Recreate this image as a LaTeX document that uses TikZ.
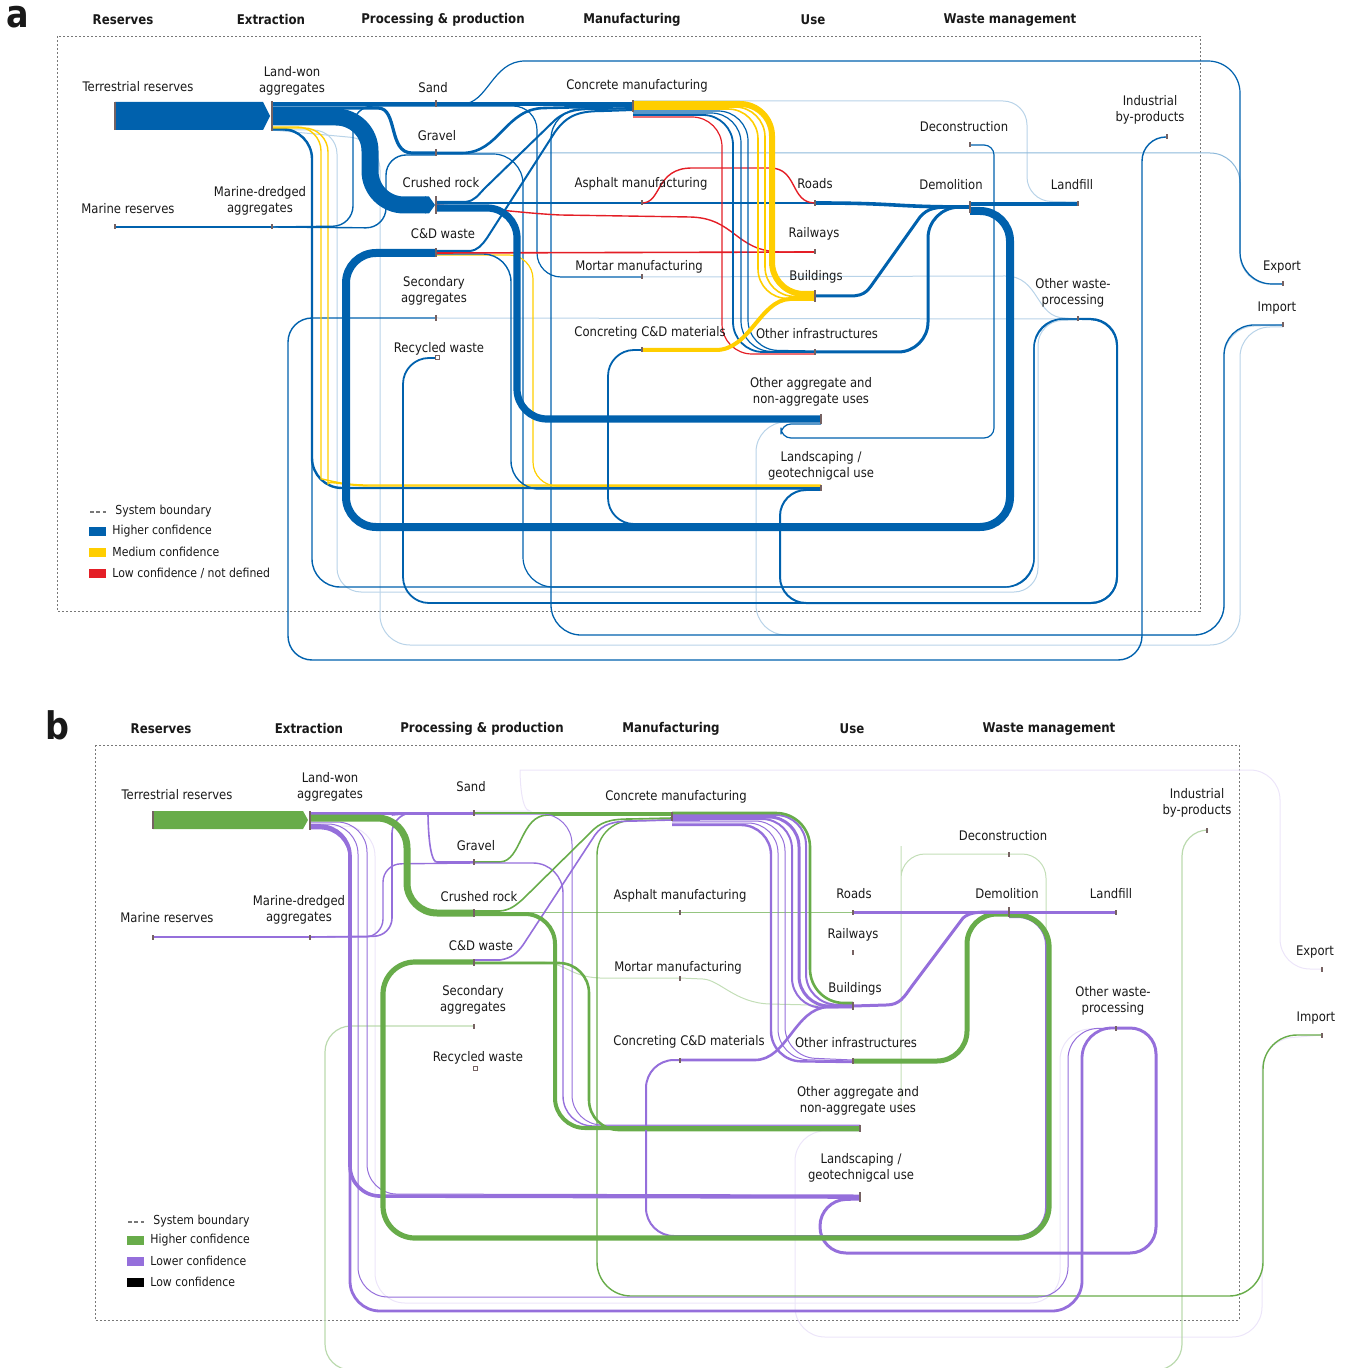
\documentclass[tikz,border=0pt]{standalone}
\usepackage{fontspec}
\setmainfont{DejaVu Sans}[FakeStretch=0.88]
\usetikzlibrary{calc}
\definecolor{flowblue}{RGB}{0,97,173}
\definecolor{flowyellow}{RGB}{255,206,0}
\definecolor{flowred}{RGB}{228,30,38}
\definecolor{flowgreen}{RGB}{104,172,74}
\definecolor{flowpurple}{RGB}{149,111,219}
\definecolor{tickgray}{RGB}{118,98,98}
\definecolor{boxgray}{RGB}{120,120,120}
\definecolor{txt}{RGB}{25,25,25}
% small grey marker bar at a flow node
\newcommand{\flowtick}[2]{\fill[tickgray] ($(#1)+(-1.2,-#2/2)$) rectangle ($(#1)+(1.2,#2/2)$);}
\begin{document}
\begin{tikzpicture}[x=0.5pt,y=-0.5pt,
  every node/.style={text=txt},
  lab/.style={font=\fontsize{6.6}{8}\selectfont, align=center, inner sep=0pt},
  head/.style={font=\bfseries\fontsize{6.7}{8}\selectfont, inner sep=0pt},
  legtext/.style={font=\fontsize{6.2}{7}\selectfont, anchor=west, inner sep=0pt},
  panel/.style={font=\bfseries\fontsize{19}{20}\selectfont, inner sep=0pt},
  sysbound/.style={draw=boxgray, line width=0.45pt, dash pattern=on 1.1pt off 0.9pt},
  fblue/.style={draw=flowblue, line join=round},
  fyel/.style={draw=flowyellow, line join=round},
  fred/.style={draw=flowred, line join=round},
  fgreen/.style={draw=flowgreen, line join=round},
  fpurp/.style={draw=flowpurple, line join=round},
  faintb/.style={draw=flowblue!28, line width=0.5pt},
  faintg/.style={draw=flowgreen!40, line width=0.5pt},
  faintp/.style={draw=flowpurple!18, line width=0.5pt}]
\useasboundingbox (0,0) rectangle (1351,1368);

%================ panel a ================
\node[panel] (pa) at (18,17) {a};
\node[head] (haRes) at (123,20) {Reserves};
\node[head] (haExt) at (271,20) {Extraction};
\node[head] (haPro) at (443,20) {Processing \& production};
\node[head] (haMan) at (632,20) {Manufacturing};
\node[head] (haUse) at (813,20) {Use};
\node[head] (haWas) at (1010,20) {Waste management};
\draw[sysbound] (57,36) rectangle (1200,611);

\coordinate (aTer) at (115,116);
\coordinate (aLand) at (272,116);
\coordinate (aMarR) at (115,227);
\coordinate (aMarD) at (272,227);
\coordinate (aSand) at (436,104);
\coordinate (aGrav) at (436,153);
\coordinate (aCrush) at (436,205);
\coordinate (aCDW) at (436,253);
\coordinate (aSec) at (436,318);
\coordinate (aRec) at (437,358);
\coordinate (aConc) at (633,106);
\coordinate (aAsph) at (642,203);
\coordinate (aMort) at (642,277);
\coordinate (aCCD) at (642,350);
\coordinate (aRoad) at (815,203);
\coordinate (aRail) at (815,252);
\coordinate (aBuild) at (815,296);
\coordinate (aInfra) at (815,352);
\coordinate (aOAU) at (821,419);
\coordinate (aLsc) at (821,488);
\coordinate (aDecon) at (970,145);
\coordinate (aDemo) at (970,207);
\coordinate (aFill) at (1078,204);
\coordinate (aInd) at (1167,137);
\coordinate (aOWP) at (1078,319);
\coordinate (aExp) at (1283,284);
\coordinate (aImp) at (1283,325);

% faint flows
\draw[faintb, rounded corners=12pt] ($(aConc)+(0,-5)$) -- (1027,101) -- (1027,201) -- ($(aFill)+(0,-2)$);
\draw[faintb] (aMort) -- (1005,276) .. controls (1040,276) and (1035,318) .. (1065,318) -- (aOWP);
\draw[faintb] (aSec) -- (aOWP);
\draw[faintb, rounded corners=12pt] ($(aLand)+(0,14)$) -- (337,130) -- (337,592) -- (1038,592) -- (1038,321) -- ($(aOWP)+(0,1)$);
\draw[faintb, rounded corners=15pt] ($(aOAU)+(0,3)$) -- (756,422) -- (756,635) -- (1224,635) -- (1224,327) -- (aImp);
\draw[faintb, rounded corners=15pt] ($(aImp)+(0,2)$) -- (1240,327) -- (1240,645) -- (380,645) -- (380,140) -- ($(aLand)+(0,14)$);
\draw[flowblue!45, line width=0.5pt, rounded corners=15pt] (aGrav) -- (1240,153) -- (1240,284) -- (aExp);

% thin flows
\draw[fblue, line width=0.6pt] (aSand) -- (462,104) .. controls (488,104) and (492,61) .. (525,61) [rounded corners=16pt] -- (1240,61) -- (1240,284) -- (aExp);
\draw[fblue, line width=0.65pt, rounded corners=15pt] (aImp) -- (1224,325) -- (1224,635) -- (551,635) -- (551,109) -- ($(aConc)+(0,3)$);
\draw[fblue, line width=0.7pt, rounded corners=12pt] (aInd) -- (1142,137) -- (1142,660) -- (288,660) -- (288,318) -- (aSec);
\draw[fblue, line width=0.7pt, rounded corners=14pt] ($(aLand)+(0,14)$) -- (312,130) -- (312,587) -- (1034,587) -- (1034,319) -- (aOWP);
\draw[fblue, line width=0.6pt, rounded corners=15pt] ($(aGrav)+(0,1)$) -- (523,154) -- (523,587) -- (1034,587) -- (1034,319) -- (aOWP);
\draw[fblue, line width=1.2pt, rounded corners=15pt] ($(aLand)+(0,13)$) -- (312,129) -- (312,488) -- (aLsc);
\draw[fyel, line width=0.7pt, rounded corners=12pt] ($(aLand)+(0,11)$) -- (321,127) -- (321,455) .. controls (321,478) and (340,485) .. (390,485) -- ($(aLsc)+(0,-3)$);
\draw[fyel, line width=0.7pt, rounded corners=12pt] ($(aLand)+(0,12)$) -- (328,128) -- (328,460) .. controls (328,480) and (345,486) .. (395,486) -- ($(aLsc)+(0,-2)$);
\draw[fblue, line width=1.2pt] (aMarR) -- (aMarD);
\draw[fblue, line width=0.7pt, rounded corners=10pt] (aMarD) -- (353,226) -- (353,106) -- ($(aSand)+(0,2)$);
\draw[fblue, line width=0.7pt, rounded corners=10pt] (aMarD) -- (386,228) -- (386,155) -- ($(aGrav)+(0,2)$);
\draw[fblue, line width=0.6pt, rounded corners=12pt] ($(aSand)+(0,2)$) -- (537,106) -- (537,277) -- (aMort);
\draw[fyel, line width=0.6pt, rounded corners=12pt] ($(aCDW)+(0,2)$) -- (533,255) -- (533,486) -- ($(aLsc)+(0,-2)$);
\draw[fblue, line width=0.7pt, rounded corners=14pt] ($(aCDW)+(0,1)$) -- (511,254) -- (511,489) -- ($(aLsc)+(0,1)$);
\draw[fblue, line width=0.8pt] ($(aCrush)+(0,-2)$) -- (aRoad);
\draw[fred, line width=0.7pt] (aCrush) .. controls (490,208) and (520,213) .. (560,215) -- (690,217) .. controls (735,218) and (735,251) .. (780,252) -- (aRail);
\draw[fred, line width=0.8pt] (aCDW) -- (aRail);
\draw[fred, line width=0.7pt] (aAsph) .. controls (662,203) and (655,168) .. (692,168) -- (770,168) .. controls (798,168) and (790,203) .. (aRoad);
\draw[fblue, line width=1.3pt] (aGrav) -- (462,153) .. controls (500,153) and (505,108) .. (545,108) -- (aConc);
\draw[fblue, line width=1pt] ($(aCrush)+(0,-3)$) -- (465,202) .. controls (475,201) and (478,195) .. (485,188) -- (555,120) .. controls (568,109) and (580,109) .. (600,109) -- ($(aConc)+(0,2)$);
\draw[fblue, line width=1pt] ($(aCDW)+(0,-2)$) -- (470,251) .. controls (478,250) and (482,245) .. (487,238) -- (555,132) .. controls (568,114) and (580,111) .. (605,111) -- ($(aConc)+(0,4)$);
\draw[fblue, line width=0.6pt, rounded corners=5pt] (aDecon) -- (994,145) -- (994,438) -- (781,438) -- (781,424) -- ($(aOAU)+(0,5)$);
\draw[fblue, line width=0.9pt, rounded corners=13pt] (aOWP) -- (1117,320) -- (1117,603) -- (403,603) -- (403,358) -- (aRec);
\draw[fblue, line width=1pt, rounded corners=13pt] (aOWP) -- (1117,319) -- (1117,603) -- (780,603) -- (780,490) -- ($(aLsc)+(0,2)$);
\draw[fblue, line width=0.9pt, rounded corners=13pt] ($(aDemo)+(0,6)$) -- (1007,213) -- (1007,524) -- (608,524) -- (608,350) -- (aCCD);

% concrete manufacturing outflows
\draw[fred, line width=0.6pt, rounded corners=15pt] ($(aConc)+(0,11)$) -- (722,117) -- (722,354) -- ($(aInfra)+(0,2)$);
\draw[fblue, line width=0.9pt, rounded corners=15pt] ($(aConc)+(0,9)$) -- (733,115) -- (733,352) -- (aInfra);
\draw[fblue, line width=0.6pt, rounded corners=15pt] ($(aConc)+(0,7)$) -- (741,113) -- (741,351) -- (aInfra);
\draw[fblue, line width=0.6pt, rounded corners=15pt] ($(aConc)+(0,5)$) -- (748,111) -- (748,350) -- ($(aInfra)+(0,-1)$);
\draw[fyel, line width=0.8pt, rounded corners=15pt] ($(aConc)+(0,3)$) -- (758,109) -- (758,299) -- ($(aBuild)+(0,2)$);
\draw[fyel, line width=0.8pt, rounded corners=15pt] ($(aConc)+(0,1)$) -- (765,107) -- (765,297) -- (aBuild);
\draw[fyel, line width=3pt, rounded corners=16pt] ($(aConc)+(0,-2)$) -- (772,104) -- (772,294) -- ($(aBuild)+(0,-2)$);
\draw[fyel, line width=2pt] (aCCD) -- (716,350) .. controls (750,350) and (760,300) .. (790,299) -- ($(aBuild)+(0,3)$);

% main flows
\fill[flowblue] (115,102) -- (263,102) -- (270,116) -- (263,130) -- (115,130) -- cycle;
\draw[fblue, line width=2pt] ($(aLand)+(0,-12)$) -- (aSand);
\draw[fblue, line width=2.2pt] (aSand) -- ($(aConc)+(0,-2)$);
\draw[fblue, line width=8.5pt, rounded corners=17pt] ($(aLand)+(0,1)$) -- (370,117) -- (370,205) -- ($(aCrush)+(-10,0)$);
\fill[flowblue] (425,196.5) -- (429,196.5) -- (435,205) -- (429,213.5) -- (425,213.5) -- cycle;
\draw[fblue, line width=1.6pt] ($(aLand)+(0,-8)$) -- (378,108) .. controls (398,108) and (388,153) .. (412,153) -- (aGrav);
\draw[fblue, line width=3.6pt, rounded corners=15pt] ($(aCrush)+(0,3)$) -- (517,208) -- (517,419) -- (aOAU);
\draw[fblue, line width=4pt, rounded corners=15pt] ($(aDemo)+(0,4)$) -- (1010,211) -- (1010,527) -- (346,527) -- (346,253) -- (aCDW);
\draw[fblue, line width=1.5pt] (aBuild) -- (850,296) .. controls (866,296) and (868,290) .. (876,279) -- (920,217) .. controls (928,208) and (935,207) .. (955,207) -- (aDemo);
\draw[fblue, line width=1.5pt, rounded corners=15pt] (aInfra) -- (928,352) -- (928,208) -- (aDemo);
\draw[fblue, line width=1.8pt] (aRoad) .. controls (900,203) and (890,207) .. (aDemo);
\draw[fblue, line width=1.6pt] ($(aDemo)+(0,-3)$) -- (aFill);

% node markers
\flowtick{aTer}{28} \flowtick{aLand}{30} \flowtick{aMarR}{5} \flowtick{aMarD}{5}
\flowtick{aSand}{7} \flowtick{aGrav}{7} \flowtick{aCrush}{18} \flowtick{aCDW}{9}
\flowtick{aSec}{6} \flowtick{aConc}{12} \flowtick{aAsph}{5} \flowtick{aMort}{5}
\flowtick{aCCD}{5} \flowtick{aRoad}{6} \flowtick{aRail}{5} \flowtick{aBuild}{12}
\flowtick{aInfra}{6} \flowtick{aOAU}{10} \flowtick{aLsc}{6} \flowtick{aDecon}{5}
\flowtick{aDemo}{12} \flowtick{aFill}{5} \flowtick{aInd}{5} \flowtick{aOWP}{5}
\flowtick{aExp}{5} \flowtick{aImp}{5}
\draw[tickgray, line width=0.5pt, fill=white] ($(aRec)+(-2,-2)$) rectangle ($(aRec)+(2,2)$);

% labels
\node[lab] (laTer) at (138,87) {Terrestrial reserves};
\node[lab] (laLand) at (292,81) {Land-won\\aggregates};
\node[lab] (laMarR) at (128,209) {Marine reserves};
\node[lab] (laMarD) at (260,201) {Marine-dredged\\aggregates};
\node[lab] (laSand) at (433,88) {Sand};
\node[lab] (laGrav) at (437,136) {Gravel};
\node[lab] (laCrush) at (441,183) {Crushed rock};
\node[lab] (laCDW) at (443,234) {C\&D waste};
\node[lab] (laSec) at (434,291) {Secondary\\aggregates};
\node[lab] (laRec) at (439,349) {Recycled waste};
\node[lab] (laConc) at (637,86) {Concrete manufacturing};
\node[lab] (laAsph) at (641,184) {Asphalt manufacturing};
\node[lab] (laMort) at (639,267) {Mortar manufacturing};
\node[lab] (laCCD) at (650,333) {Concreting C\&D materials};
\node[lab] (laRoad) at (815,184) {Roads};
\node[lab] (laRail) at (814,234) {Railways};
\node[lab] (laBuild) at (816,277) {Buildings};
\node[lab] (laInfra) at (817,334) {Other infrastructures};
\node[lab] (laOAU) at (811,392) {Other aggregate and\\non-aggregate uses};
\node[lab] (laLsc) at (821,466) {Landscaping /\\geotechnigcal use};
\node[lab] (laDecon) at (964,127) {Deconstruction};
\node[lab] (laDemo) at (951,185) {Demolition};
\node[lab] (laFill) at (1072,185) {Landfill};
\node[lab] (laInd) at (1150,110) {Industrial\\by-products};
\node[lab] (laOWP) at (1073,293) {Other waste-\\processing};
\node[lab] (laExp) at (1282,267) {Export};
\node[lab] (laImp) at (1277,308) {Import};

% legend
\draw[boxgray, line width=0.6pt, dash pattern=on 2pt off 1.2pt] (90,512) -- (106,512);
\node[legtext] (lgaSys) at (115,511) {System boundary};
\fill[flowblue] (89,527) rectangle (106,536);
\node[legtext] (lgaHi) at (112,531) {Higher confidence};
\fill[flowyellow] (89,548) rectangle (106,557);
\node[legtext] (lgaMed) at (112,552) {Medium confidence};
\fill[flowred] (89,569) rectangle (106,578);
\node[legtext] (lgaLow) at (112,573) {Low confidence / not defined};

%================ panel b ================
\node[panel] (pb) at (57,725) {b};
\node[head] (hbRes) at (161,729) {Reserves};
\node[head] (hbExt) at (309,729) {Extraction};
\node[head] (hbPro) at (482,729) {Processing \& production};
\node[head] (hbMan) at (671,729) {Manufacturing};
\node[head] (hbUse) at (852,729) {Use};
\node[head] (hbWas) at (1049,729) {Waste management};
\draw[sysbound] (95,745) rectangle (1239,1320);

\coordinate (bTer) at (153,820);
\coordinate (bLand) at (310,820);
\coordinate (bMarR) at (153,937);
\coordinate (bMarD) at (310,937);
\coordinate (bSand) at (474,813);
\coordinate (bGrav) at (474,862);
\coordinate (bCrush) at (474,913);
\coordinate (bCDW) at (474,962);
\coordinate (bSec) at (474,1026);
\coordinate (bRec) at (475,1068);
\coordinate (bConc) at (672,816);
\coordinate (bAsph) at (680,912);
\coordinate (bMort) at (680,978);
\coordinate (bCCD) at (680,1060);
\coordinate (bRoad) at (853,912);
\coordinate (bRail) at (853,952);
\coordinate (bBuild) at (853,1006);
\coordinate (bInfra) at (853,1061);
\coordinate (bOAU) at (860,1128);
\coordinate (bLsc) at (860,1197);
\coordinate (bDecon) at (1009,854);
\coordinate (bDemo) at (1009,912);
\coordinate (bFill) at (1116,912);
\coordinate (bInd) at (1207,830);
\coordinate (bOWP) at (1116,1028);
\coordinate (bExp) at (1322,969);
\coordinate (bImp) at (1322,1035);
\coordinate (bDeconEnd) at (1046,945);
\coordinate (bDeconSrc) at (901,1110);

% faint flows
\draw[faintp, rounded corners=15pt] ($(bSand)+(0,-2)$) -- (500,811) .. controls (520,811) and (520,770) .. (550,770) -- (1280,770) -- (1280,969) -- (bExp);
\draw[faintp, rounded corners=15pt] ($(bOAU)+(0,3)$) -- (795,1131) -- (795,1337) -- (1262,1337) -- (1262,1040) -- (bImp);
\draw[faintp, rounded corners=15pt] ($(bLand)+(0,6)$) -- (375,826) -- (375,1303) -- (1060,1303) -- (1060,1030) -- (bOWP);
\draw[faintg, rounded corners=12pt] (bDeconSrc) -- (901,870) -- (901,854) -- (bDecon);
\draw[faintg, rounded corners=12pt] (bDecon) -- (1046,854) -- (bDeconEnd);
\draw[faintg] (bCDW) -- (540,962) .. controls (565,962) and (570,977) .. (600,978) -- (bMort);
\draw[faintg] (bMort) -- (703,979) .. controls (720,980) and (735,1003) .. (770,1004) -- (bBuild);
\draw[flowgreen!45, line width=0.6pt, rounded corners=13pt] (bInd) -- (1182,830) -- (1182,1370) -- (325,1370) -- (325,1026) -- (bSec);
\draw[flowgreen!70, line width=0.5pt] ($(bCrush)+(0,-1)$) -- (bRoad);

% thin flows
\draw[fgreen, line width=0.7pt, rounded corners=17pt] (bImp) -- (1263,1035) -- (1263,1296) -- (597,1296) -- (597,821) -- ($(bConc)+(0,4)$);
\draw[fpurp, line width=0.5pt, rounded corners=15pt] ($(bLand)+(0,4)$) -- (358,824) -- (358,1297) -- (1068,1297) -- (1068,1029) -- (bOWP);
\draw[fpurp, line width=0.5pt, rounded corners=15pt] ($(bLand)+(0,2)$) -- (367,822) -- (367,1194) -- ($(bLsc)+(0,-2)$);
\draw[fpurp, line width=1.4pt, rounded corners=15pt] ($(bLand)+(0,8)$) -- (350,828) -- (350,1311) -- (1082,1311) -- (1082,1028) -- (bOWP);
\draw[fpurp, line width=1.8pt, rounded corners=15pt] ($(bLand)+(0,6)$) -- (350,826) -- (350,1196) -- (bLsc);
\draw[fpurp, line width=1.2pt] (bMarR) -- (bMarD);
\draw[fpurp, line width=0.7pt, rounded corners=9pt] (bMarD) -- (383,937) -- (383,864) -- ($(bGrav)+(0,1)$);
\draw[fpurp, line width=0.8pt] (bMarD) [rounded corners=9pt] -- (392,936) -- (392,815) -- (410,813) .. controls (428,813) and (428,862) .. (455,862) -- (bGrav);
\draw[fgreen, line width=0.8pt] (bGrav) -- (500,862) .. controls (522,861) and (520,815) .. (548,815) -- ($(bConc)+(0,-1)$);
\draw[fpurp, line width=0.7pt, rounded corners=15pt] ($(bGrav)+(0,1)$) -- (563,863) -- (563,1126) -- ($(bOAU)+(0,-2)$);
\draw[fpurp, line width=0.5pt, rounded corners=15pt] ($(bSand)+(0,1)$) -- (572,814) -- (572,1125) -- ($(bOAU)+(0,-3)$);
\draw[fgreen, line width=0.8pt] ($(bCrush)+(0,-2)$) -- (500,911) .. controls (510,910) and (515,906) .. (523,899) -- (590,833) .. controls (600,822) and (610,819) .. (630,819) -- ($(bConc)+(0,2)$);
\draw[fpurp, line width=0.8pt] ($(bCDW)+(0,-2)$) -- (500,960) .. controls (512,958) and (517,953) .. (523,945) -- (595,835) .. controls (603,824) and (612,821) .. (635,821) -- ($(bConc)+(0,4)$);
\draw[fgreen, line width=1.3pt, rounded corners=15pt] ($(bCDW)+(0,1)$) -- (589,963) -- (589,1130) -- ($(bOAU)+(0,2)$);
\draw[fpurp, line width=1pt, rounded corners=14pt] ($(bDemo)+(0,5)$) -- (1046,917) -- (1046,1236) -- (646,1236) -- (646,1060) -- (bCCD);
\draw[fpurp, line width=1.5pt, rounded corners=13pt] (bOWP) -- (1156,1028) -- (1156,1253) -- (820,1253) -- (820,1200) -- ($(bLsc)+(0,2)$);

% concrete manufacturing outflows
\draw[fpurp, line width=1.2pt, rounded corners=15pt] ($(bConc)+(0,9)$) -- (771,825) -- (771,1061) -- ($(bInfra)+(0,1)$);
\draw[fpurp, line width=0.5pt, rounded corners=15pt] ($(bConc)+(0,7)$) -- (778,823) -- (778,1059) -- (bInfra);
\draw[fpurp, line width=0.5pt, rounded corners=15pt] ($(bConc)+(0,5)$) -- (785,821) -- (785,1057) -- ($(bInfra)+(0,-1)$);
\draw[fpurp, line width=1pt, rounded corners=15pt] ($(bConc)+(0,3)$) -- (792,819) -- (792,1008) -- ($(bBuild)+(0,1)$);
\draw[fpurp, line width=1.5pt, rounded corners=15pt] ($(bConc)+(0,1)$) -- (799,817) -- (799,1006) -- (bBuild);
\draw[fpurp, line width=1pt, rounded corners=15pt] ($(bConc)+(0,-1)$) -- (806,815) -- (806,1004) -- ($(bBuild)+(0,-1)$);
\draw[fgreen, line width=1.3pt, rounded corners=17pt] ($(bConc)+(0,-3)$) -- (810,813) -- (810,1003) -- ($(bBuild)+(0,-3)$);
\draw[fpurp, line width=1.3pt] (bCCD) -- (755,1060) .. controls (787,1060) and (795,1008) .. (828,1007) -- ($(bBuild)+(0,1)$);

% main flows
\fill[flowgreen] (153,811) -- (303,811) -- (308,820) -- (303,829) -- (153,829) -- cycle;
\draw[fpurp, line width=1.5pt] ($(bLand)+(0,-7)$) -- (bSand);
\draw[fgreen, line width=1pt] (bSand) -- ($(bConc)+(0,-3)$);
\draw[fpurp, line width=2.4pt] ($(bConc)+(0,3)$) -- (700,819);
\draw[fgreen, line width=3.5pt, rounded corners=15pt] ($(bLand)+(0,-2)$) -- (407,818) -- (407,913) -- (bCrush);
\draw[fgreen, line width=2pt, rounded corners=15pt] ($(bCrush)+(0,1)$) -- (555,914) -- (555,1128) -- (bOAU);
\draw[fgreen, line width=2.6pt, rounded corners=16pt] ($(bDemo)+(0,3)$) -- (1049,915) -- (1049,1238) -- (383,1238) -- (383,962) -- (bCDW);
\draw[fpurp, line width=1.5pt] (bBuild) -- (886,1005) .. controls (900,1005) and (904,997) .. (912,986) -- (963,918) .. controls (970,912) and (978,912) .. (995,912) -- (bDemo);
\draw[fgreen, line width=2.5pt, rounded corners=15pt] (bInfra) -- (967,1061) -- (967,914) -- ($(bDemo)+(0,2)$);
\draw[fpurp, line width=1.5pt] (bRoad) -- (bDemo);
\draw[fpurp, line width=1.5pt] (bDemo) -- (bFill);

% node markers
\flowtick{bTer}{18} \flowtick{bLand}{19} \flowtick{bMarR}{5} \flowtick{bMarD}{5}
\flowtick{bSand}{6} \flowtick{bGrav}{6} \flowtick{bCrush}{8} \flowtick{bCDW}{7}
\flowtick{bSec}{5} \flowtick{bConc}{9} \flowtick{bAsph}{5} \flowtick{bMort}{5}
\flowtick{bCCD}{5} \flowtick{bRoad}{5} \flowtick{bRail}{5} \flowtick{bBuild}{8}
\flowtick{bInfra}{6} \flowtick{bOAU}{7} \flowtick{bLsc}{10} \flowtick{bDecon}{5}
\flowtick{bDemo}{10} \flowtick{bFill}{5} \flowtick{bInd}{5} \flowtick{bOWP}{5}
\flowtick{bExp}{5} \flowtick{bImp}{5}
\draw[tickgray, line width=0.5pt, fill=white] ($(bRec)+(-2,-2)$) rectangle ($(bRec)+(2,2)$);

% labels
\node[lab] (lbTer) at (177,795) {Terrestrial reserves};
\node[lab] (lbLand) at (330,787) {Land-won\\aggregates};
\node[lab] (lbMarR) at (167,918) {Marine reserves};
\node[lab] (lbMarD) at (299,910) {Marine-dredged\\aggregates};
\node[lab] (lbSand) at (471,787) {Sand};
\node[lab] (lbGrav) at (476,846) {Gravel};
\node[lab] (lbCrush) at (479,897) {Crushed rock};
\node[lab] (lbCDW) at (481,946) {C\&D waste};
\node[lab] (lbSec) at (473,1000) {Secondary\\aggregates};
\node[lab] (lbRec) at (478,1058) {Recycled waste};
\node[lab] (lbConc) at (676,797) {Concrete manufacturing};
\node[lab] (lbAsph) at (680,896) {Asphalt manufacturing};
\node[lab] (lbMort) at (678,968) {Mortar manufacturing};
\node[lab] (lbCCD) at (689,1042) {Concreting C\&D materials};
\node[lab] (lbRoad) at (854,894) {Roads};
\node[lab] (lbRail) at (853,935) {Railways};
\node[lab] (lbBuild) at (855,989) {Buildings};
\node[lab] (lbInfra) at (856,1043) {Other infrastructures};
\node[lab] (lbOAU) at (858,1101) {Other aggregate and\\non-aggregate uses};
\node[lab] (lbLsc) at (861,1168) {Landscaping /\\geotechnigcal use};
\node[lab] (lbDecon) at (1003,836) {Deconstruction};
\node[lab] (lbDemo) at (1007,894) {Demolition};
\node[lab] (lbFill) at (1111,894) {Landfill};
\node[lab] (lbInd) at (1197,803) {Industrial\\by-products};
\node[lab] (lbOWP) at (1113,1001) {Other waste-\\processing};
\node[lab] (lbExp) at (1315,952) {Export};
\node[lab] (lbImp) at (1316,1018) {Import};

% legend
\draw[boxgray, line width=0.6pt, dash pattern=on 2pt off 1.2pt] (128,1222) -- (144,1222);
\node[legtext] (lgbSys) at (153,1221) {System boundary};
\fill[flowgreen] (127,1236) rectangle (144,1245);
\node[legtext] (lgbHi) at (150,1240) {Higher confidence};
\fill[flowpurple] (127,1257) rectangle (144,1266);
\node[legtext] (lgbLo) at (150,1261) {Lower confidence};
\fill[black] (127,1278) rectangle (144,1287);
\node[legtext] (lgbLow) at (150,1282) {Low confidence};
\end{tikzpicture}
\end{document}
